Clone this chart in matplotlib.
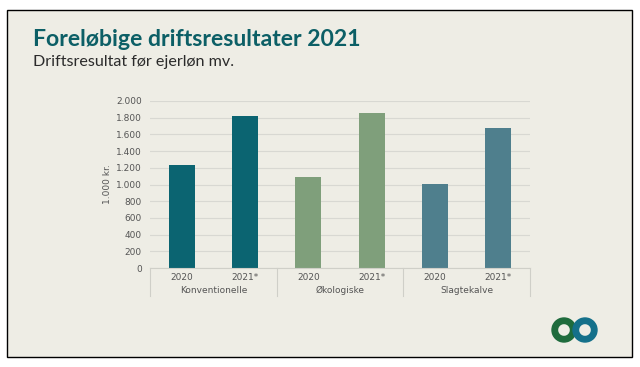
import matplotlib.pyplot as plt
from matplotlib.patches import Rectangle, Wedge

# data
groups = ['Konventionelle', 'Økologiske', 'Slagtekalve']
years = ['2020', '2021*']
values = [[1230, 1825], [1090, 1855], [1005, 1675]]
colors = ['#0b6471', '#7f9f7b', '#4f7f8d']
yticks = [0, 200, 400, 600, 800, 1000, 1200, 1400, 1600, 1800, 2000]

W, H = 640, 367
fig = plt.figure(figsize=(6.4, 3.67), dpi=100)
fig.patch.set_facecolor('white')

# beige panel with black frame
fig.patches.append(Rectangle((7 / W, 1 - 357 / H), 625 / W, 347 / H,
                             transform=fig.transFigure, facecolor='#eeede5',
                             edgecolor='black', linewidth=1.0, zorder=-5))

fig.text(33 / W, 1 - 40 / H, 'Foreløbige driftsresultater 2021', fontsize=16.6,
         fontweight='bold', color='#0c5f66', va='center', ha='left',
         family='Lato')
fig.text(33 / W, 1 - 62 / H, 'Driftsresultat før ejerløn mv.', fontsize=11.6,
         color='#2b2b2b', va='center', ha='left', family='Lato')

ax = fig.add_axes([150 / W, 1 - 268 / H, 380 / W, 167 / H])
ax.set_facecolor('none')

for g in range(len(groups)):
    for i in range(len(years)):
        ax.bar(2 * g + 0.5 + i, values[g][i], width=0.41, color=colors[g], zorder=3)

ax.set_xlim(0, 6)
ax.set_ylim(0, 2000)
ax.set_yticks(yticks)
ax.set_yticklabels(['{:,}'.format(v).replace(',', '.') for v in yticks],
                   fontsize=6.5, color='#555555')
ax.yaxis.grid(True, color='#d8d8d2', linewidth=0.8, zorder=0)
ax.tick_params(axis='y', length=0, pad=6)
ax.set_xticks([])
for s in ax.spines.values():
    s.set_visible(False)
ax.set_ylabel('1.000 kr.', fontsize=6.5, color='#555555', labelpad=3)

# category axis below
for g in range(len(groups)):
    for i in range(len(years)):
        ax.text(2 * g + 0.5 + i, -55, years[i], ha='center', va='top',
                fontsize=6.5, color='#555555', clip_on=False)
    ax.text(2 * g + 1, -215, groups[g], ha='center', va='top',
            fontsize=6.5, color='#555555', clip_on=False)
for x in [0, 2, 4, 6]:
    ax.plot([x, x], [0, -330], color='#cfcfc8', linewidth=0.8, clip_on=False)
ax.plot([0, 6], [0, 0], color='#cfcfc8', linewidth=0.8, clip_on=False, zorder=4)

# logo
lax = fig.add_axes([545 / W, 1 - 348 / H, 60 / W, 36 / H])
lax.set_xlim(0, 60)
lax.set_ylim(0, 36)
lax.set_aspect('equal')
lax.axis('off')
lax.add_patch(Wedge((19, 18), 12, 0, 360, width=5.5, color='#1e6b3c'))
lax.add_patch(Wedge((40, 18), 12, 0, 360, width=5.5, color='#14708a'))

fig.savefig('out.png', dpi=100, facecolor='white')
